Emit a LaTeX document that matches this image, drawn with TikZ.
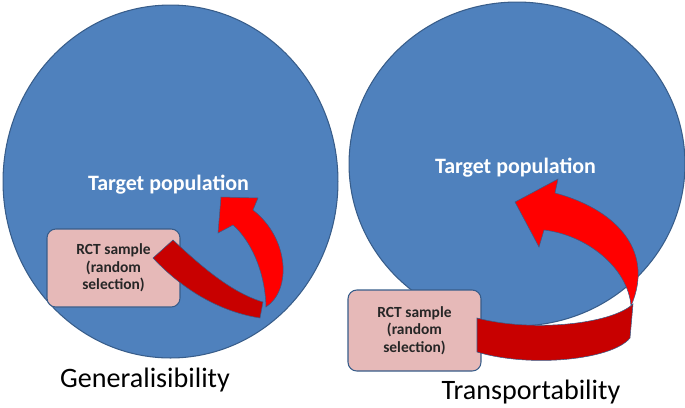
\documentclass[tikz,border=0pt]{standalone}
\usepackage{fontspec}
\setmainfont{Carlito}
\usetikzlibrary{shapes.geometric, positioning}
\usepackage{xcolor}
\definecolor{popblue}{RGB}{79,129,189}
\definecolor{edgeblue}{RGB}{56,93,138}
\definecolor{samplepink}{RGB}{230,185,184}
\definecolor{darkred}{RGB}{200,0,0}

\begin{document}
\begin{tikzpicture}[x=0.02cm, y=-0.02cm,
      popl/.style={ellipse, draw=edgeblue, fill=popblue, line width=0.6pt,
                   inner sep=0pt},
      poplabel/.style={text=white, font=\fontsize{12.5}{14}\selectfont\bfseries},
      sample/.style={rectangle, rounded corners=5pt, draw=edgeblue,
                     fill=samplepink, line width=0.6pt, minimum width=2.66cm,
                     align=center, text=black!85,
                     font=\fontsize{8.8}{10}\selectfont\bfseries},
      caption/.style={font=\fontsize{16}{18}\selectfont},
      front/.style={fill=red, draw=edgeblue, line width=0.3pt},
      back/.style={fill=darkred, draw=edgeblue, line width=0.3pt}
    ]
    \useasboundingbox (0,0) rectangle (685,407);

    % generalisibility
    \node[popl, minimum width=6.7cm, minimum height=7.06cm] (popL) at (170.5,181.5) {};
    \node[poplabel] (tgtL) at (168.5,185) {Target population};
    \node[sample, minimum height=1.56cm] (rctL) at (113.5,268) {RCT sample\\(random\\selection)};
    \node[caption] (genL) at (145,380) {Generalisibility};

    \filldraw[back] (173,240) .. controls (200,265) and (230,292) .. (263,302)
      -- (260,318) .. controls (222,312) and (185,292) .. (153,258) -- cycle;
    \filldraw[front] (266,307) .. controls (292,290) and (289,238) .. (253,210)
      -- (258,198) -- (221,197) -- (218,233) -- (233,225)
      .. controls (250,240) and (265,270) .. (266,307) -- cycle;

    % transportability
    \node[popl, minimum width=6.72cm, minimum height=6.48cm] (popR) at (517,164) {};
    \node[poplabel] (tgtR) at (515.5,168) {Target population};
    \node[sample, minimum height=1.62cm] (rctR) at (414.5,330.5) {RCT sample\\(random\\selection)};
    \node[caption] (genR) at (531,392) {Transportability};

    \filldraw[back] (633,304) .. controls (610,325) and (530,332) .. (477,318)
      -- (477,352) .. controls (530,368) and (612,360) .. (630,338) -- cycle;
    \filldraw[front] (631,306) .. controls (656,248) and (612,208) .. (555,193)
      -- (558,179) -- (515,202) -- (539,247) -- (544,230)
      .. controls (587,235) and (628,268) .. (631,306) -- cycle;
  \end{tikzpicture}
\end{document}
